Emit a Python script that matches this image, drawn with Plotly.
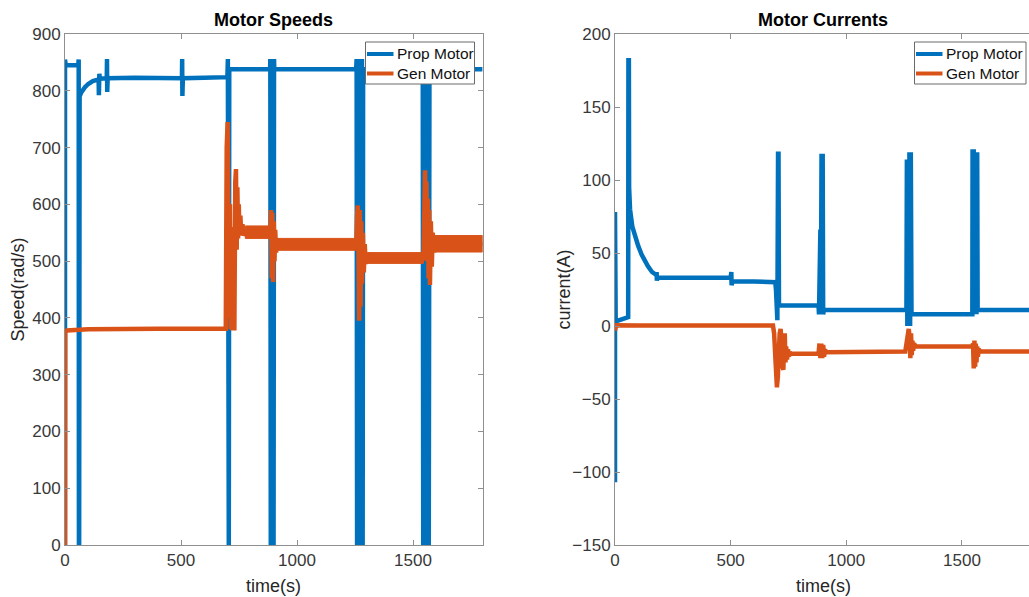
import plotly.graph_objects as go

W, H = 1029, 597
BLUE = "#0072BD"
ORANGE = "#D95319"
FONT = "Liberation Sans, Arial, sans-serif"

# ---------------- Motor Speeds (left) ----------------
prop_speed_t = [0, 0, 3, 57, 59, 60, 61, 63, 70, 85, 100, 120, 145, 146, 148, 150, 180, 181, 182, 184,
                300, 450, 504, 505, 506, 508, 600, 700, 702, 704, 706, 708, 884, 885, 887, 890, 893, 896,
                899, 901, 902, 1255, 1257, 1259, 1262, 1265, 1268, 1271, 1274, 1277, 1280, 1283, 1285,
                1540, 1542, 1544, 1547, 1550, 1553, 1556, 1559, 1562, 1565, 1568, 1571, 1573, 1800]
prop_speed_v = [0, 855, 845, 845, 855, 0, 0, 790, 797, 806, 812, 817, 820, 792, 830, 821, 822, 856, 798, 822,
                823, 822, 822, 856, 791, 822, 823, 824, 856, 0, 0, 838, 838, 856, 0, 856, 0, 856,
                0, 856, 838, 838, 856, 0, 856, 0, 856, 0, 856, 0, 856, 0, 838,
                838, 856, 0, 856, 0, 856, 0, 856, 0, 856, 0, 856, 838, 838]

gen_speed_t = [0, 1, 8, 100, 400, 693, 697, 701, 704, 707, 711, 714, 718, 722, 726, 730, 734, 737, 740, 743,
               746, 749, 752, 756, 760, 765, 770, 777,
               885, 888, 891, 894, 897, 900, 903, 906, 910, 914, 918,
               1255, 1259, 1262, 1265, 1268, 1271, 1274, 1277, 1280, 1284, 1288, 1292, 1296, 1300, 1305,
               1545, 1549, 1552, 1555, 1558, 1561, 1564, 1567, 1570, 1573, 1577, 1581, 1585, 1590, 1595, 1800]
gen_speed_v = [0, 375, 378, 380, 381, 381, 700, 745, 560, 400, 600, 380, 500, 378, 560, 378, 640, 662, 520, 630,
               540, 600, 545, 580, 545, 565, 545, 552,
               552, 590, 470, 585, 463, 570, 500, 555, 515, 540, 528,
               530, 580, 598, 520, 395, 590, 420, 570, 460, 550, 480, 530, 495, 515, 505,
               505, 560, 660, 560, 640, 500, 610, 470, 590, 458, 570, 490, 550, 515, 532, 530]

# steady-state noise envelopes of the generator speed
gen_speed_band_start = [777, 915, 1305, 1595]
gen_speed_band_end = [885, 1255, 1545, 1800]
gen_speed_band_lo = [540, 519, 496, 516]
gen_speed_band_hi = [562, 540, 515, 545]

# ---------------- Motor Currents (right) ----------------
prop_cur_t = [0, 0, 2, 3, 10, 30, 55, 57, 58, 60, 61, 65, 75, 86, 100, 115, 130, 142, 160, 178, 180, 181, 183,
              300, 450, 500, 503, 504, 506, 508, 600, 693, 696, 698, 700, 702, 705, 707, 709,
              880, 882, 884, 886, 888, 890, 893, 895, 898, 900, 903,
              1260, 1262, 1264, 1267, 1270, 1273, 1276, 1279, 1282,
              1545, 1546, 1548, 1551, 1554, 1560, 1563, 1566, 1568, 1800]
prop_cur_v = [-107, 78, 78, 3, 3.5, 4.5, 5.5, 6, 182, 182, 95, 80, 68, 62, 55, 49, 44, 41, 37, 35, 37, 31, 33,
              33, 32.5, 33, 37, 28, 35, 30.5, 30.5, 30, 25, 5, 22, 4, 118, 118, 14,
              14, 8, 66, 8, 66, 8, 118, 8, 118, 8, 11,
              11, 114, 0, 114, 0, 119, 0, 119, 8,
              8, 121, 8, 121, 8, 119, 8, 119, 11, 11]

gen_cur_t = [0, 2, 5, 100, 683, 688, 692, 696, 700, 704, 708, 712, 716, 720, 724, 728, 731, 734, 737, 740,
             744, 748, 752, 756, 760,
             880, 884, 888, 892, 896, 900, 904, 908, 912,
             1255, 1262, 1266, 1270, 1274, 1277, 1280, 1283, 1286, 1289, 1293, 1300,
             1545, 1548, 1551, 1554, 1557, 1560, 1563, 1566, 1569, 1573, 1580, 1800]
gen_cur_v = [-3, 0, 0.5, 0.3, 0.3, -5, -25, -40, -42, -35, -15, -5, -2, -10, -28, -30, -10, -5, -25, -14,
             -23, -16, -21, -18, -19,
             -19, -12, -22, -12, -22, -13, -21, -16, -18,
             -17.5, -10, -3, -2, -8, -22, -5, -20, -10, -17, -12, -14,
             -14, -12, -29, -10, -28, -12, -25, -14, -21, -16, -17.5, -17.5]

time_ticks = [0, 500, 1000, 1500]
speed_ticks = [0, 100, 200, 300, 400, 500, 600, 700, 800, 900]
cur_ticks = [-150, -100, -50, 0, 50, 100, 150, 200]
legend_labels = ["Prop Motor", "Gen Motor"]
legend_colors = [BLUE, ORANGE]

fig = go.Figure()

fig.add_trace(go.Scatter(x=prop_speed_t, y=prop_speed_v, mode="lines", name=legend_labels[0],
                         line=dict(color=BLUE, width=4.5), xaxis="x", yaxis="y"))
for t0, t1, lo, hi in zip(gen_speed_band_start, gen_speed_band_end, gen_speed_band_lo, gen_speed_band_hi):
    fig.add_trace(go.Scatter(x=[t0, t1, t1, t0, t0], y=[lo, lo, hi, hi, lo], mode="lines", fill="toself",
                             fillcolor=ORANGE, line=dict(color=ORANGE, width=1), name=legend_labels[1],
                             hoverinfo="skip", xaxis="x", yaxis="y"))
fig.add_trace(go.Scatter(x=gen_speed_t, y=gen_speed_v, mode="lines", name=legend_labels[1],
                         line=dict(color=ORANGE, width=4.5), xaxis="x", yaxis="y"))

fig.add_trace(go.Scatter(x=prop_cur_t, y=prop_cur_v, mode="lines", name=legend_labels[0],
                         line=dict(color=BLUE, width=4.5), xaxis="x2", yaxis="y2"))
fig.add_trace(go.Scatter(x=gen_cur_t, y=gen_cur_v, mode="lines", name=legend_labels[1],
                         line=dict(color=ORANGE, width=4.5), xaxis="x2", yaxis="y2"))

AX_COLOR = "#8f8f8f"
TICK_FONT = dict(family=FONT, size=17, color="#383838")
common = dict(showline=True, linecolor=AX_COLOR, linewidth=1, ticks="inside", ticklen=5,
              tickcolor=AX_COLOR, showgrid=False, zeroline=False, tickfont=TICK_FONT, automargin=False)

ydom = [1 - 545 / H, 1 - 34 / H]
fig.update_layout(
    width=W, height=H, margin=dict(l=0, r=0, t=0, b=0, autoexpand=False),
    paper_bgcolor="white", plot_bgcolor="white", showlegend=False,
    xaxis=dict(domain=[65 / W, 482.6 / W], range=[0, 1800], tickvals=time_ticks, anchor="y",
               mirror="ticks", **common),
    yaxis=dict(domain=ydom, range=[0, 900], tickvals=speed_ticks, anchor="x", mirror="ticks", **common),
    xaxis2=dict(domain=[615 / W, 1.0], range=[0, 1790], tickvals=time_ticks, anchor="y2",
                mirror="ticks", **common),
    yaxis2=dict(domain=ydom, range=[-150, 200], tickvals=cur_ticks, anchor="x2", mirror=False, **common),
)

# Legends drawn as MATLAB-style boxes (box left/right in px, top/bottom in px)
for bx0, bx1 in [(365.5, 474.5), (914.5, 1026)]:
    fig.add_shape(type="rect", xref="paper", yref="paper", x0=bx0 / W, x1=bx1 / W,
                  y0=1 - 84 / H, y1=1 - 42 / H, fillcolor="white",
                  line=dict(color="#6a6a6a", width=1), layer="above")
    for i, (lab, col) in enumerate(zip(legend_labels, legend_colors)):
        yy = 1 - (54 + 19.5 * i) / H
        fig.add_shape(type="line", xref="paper", yref="paper", x0=(bx0 + 1.5) / W, x1=(bx0 + 28) / W,
                      y0=yy, y1=yy, line=dict(color=col, width=4), layer="above")
        fig.add_annotation(text=lab, x=(bx0 + 29.5) / W, y=yy, xref="paper", yref="paper",
                           xanchor="left", yanchor="middle", showarrow=False,
                           font=dict(family=FONT, size=15.5, color="#111"))

ann = [
    dict(text="<b>Motor Speeds</b>", x=273.8 / W, y=1 - 20 / H, size=18, color="#000", angle=0),
    dict(text="<b>Motor Currents</b>", x=823 / W, y=1 - 20 / H, size=18, color="#000", angle=0),
    dict(text="time(s)", x=273.8 / W, y=1 - 586 / H, size=18, color="#262626", angle=0),
    dict(text="time(s)", x=823 / W, y=1 - 586 / H, size=18, color="#262626", angle=0),
    dict(text="Speed(rad/s)", x=17 / W, y=1 - 289.5 / H, size=18, color="#262626", angle=-90),
    dict(text="current(A)", x=563 / W, y=1 - 289.5 / H, size=18, color="#262626", angle=-90),
]
for a in ann:
    fig.add_annotation(text=a["text"], x=a["x"], y=a["y"], xref="paper", yref="paper",
                       xanchor="center", yanchor="middle", showarrow=False, textangle=a["angle"],
                       font=dict(family=FONT, size=a["size"], color=a["color"]))

fig.write_html("out.html")
